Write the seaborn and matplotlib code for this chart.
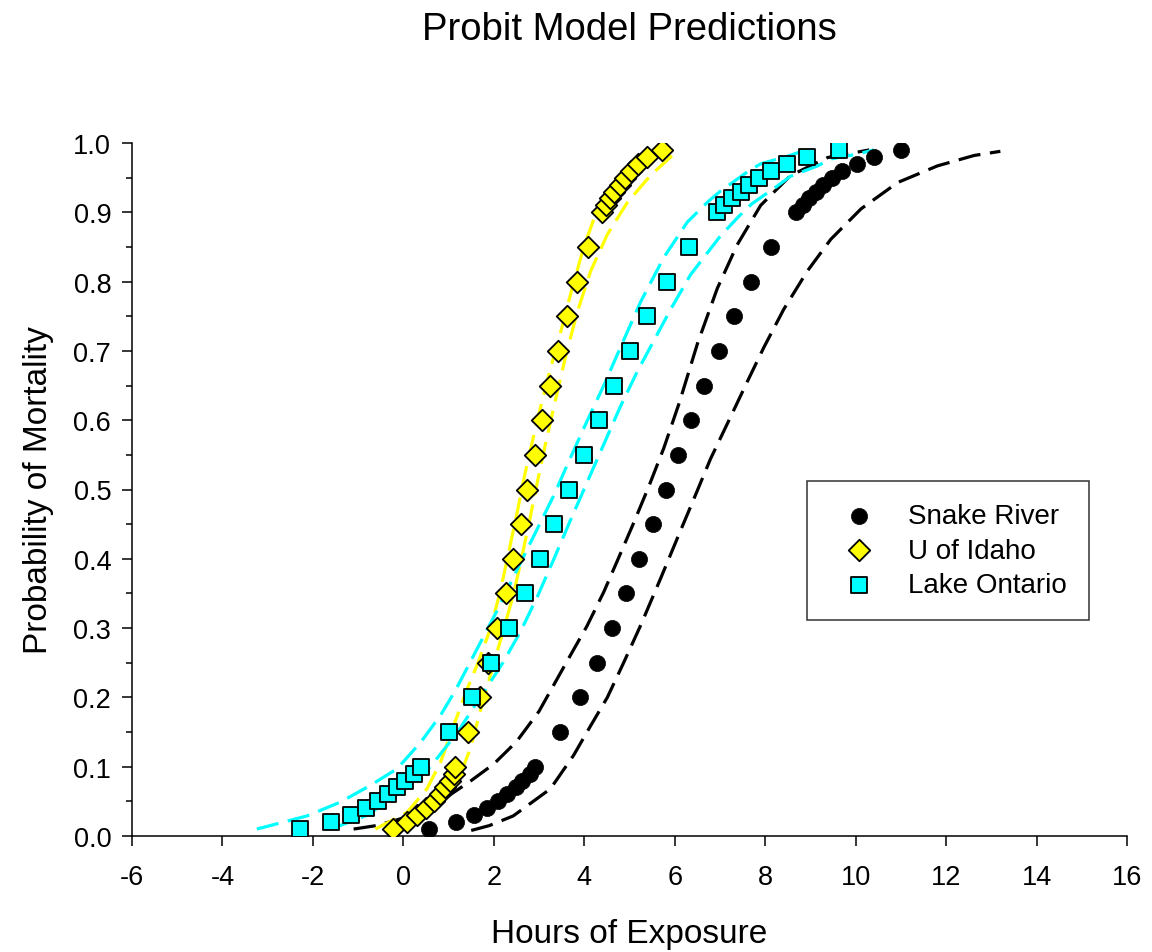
import numpy as np
import pandas as pd
import matplotlib
matplotlib.use("Agg")
import matplotlib.pyplot as plt
import seaborn as sns

# observed mortality levels (same for all three strains)
prob = [0.01, 0.02, 0.03, 0.04, 0.05, 0.06, 0.07, 0.08, 0.09, 0.10,
        0.15, 0.20, 0.25, 0.30, 0.35, 0.40, 0.45, 0.50, 0.55, 0.60,
        0.65, 0.70, 0.75, 0.80, 0.85,
        0.90, 0.91, 0.92, 0.93, 0.94, 0.95, 0.96, 0.97, 0.98, 0.99]

snake_x = [0.56, 1.17, 1.56, 1.85, 2.10, 2.30, 2.48, 2.63, 2.79, 2.92,
           3.46, 3.90, 4.28, 4.61, 4.93, 5.22, 5.52, 5.80, 6.07, 6.36,
           6.65, 6.97, 7.31, 7.69, 8.12,
           8.68, 8.83, 8.96, 9.12, 9.27, 9.47, 9.69, 10.02, 10.40, 11.00]

idaho_x = [-0.24, 0.08, 0.30, 0.49, 0.67, 0.82, 0.93, 1.04, 1.11, 1.15,
           1.44, 1.70, 1.88, 2.07, 2.26, 2.43, 2.59, 2.74, 2.92, 3.07,
           3.24, 3.42, 3.61, 3.84, 4.08,
           4.40, 4.47, 4.57, 4.65, 4.79, 4.91, 5.04, 5.18, 5.39, 5.72]

ontario_x = [-2.29, -1.60, -1.15, -0.82, -0.55, -0.33, -0.14, 0.04, 0.23, 0.40,
             1.02, 1.52, 1.93, 2.33, 2.68, 3.02, 3.34, 3.66, 3.99, 4.32,
             4.65, 5.01, 5.39, 5.82, 6.31,
             6.94, 7.09, 7.27, 7.46, 7.64, 7.86, 8.13, 8.49, 8.93, 9.63]

# predicted confidence bands
snake_up_x = [-1.1, -0.6, 0.0, 0.5, 1.0, 1.5, 2.0, 2.5, 3.0, 3.6, 4.06, 4.43,
              4.75, 5.1, 5.43, 5.76, 6.1, 6.5, 6.94, 7.38, 7.9, 8.56, 9.38, 10.3]
snake_up_p = [0.01, 0.015, 0.026, 0.04, 0.058, 0.08, 0.104, 0.136, 0.18, 0.25, 0.303, 0.352,
              0.40, 0.453, 0.505, 0.56, 0.625, 0.71, 0.79, 0.853, 0.91, 0.953, 0.979, 0.99]
snake_lo_x = [1.5, 1.9, 2.43, 3.25, 3.76, 4.14, 4.51, 4.87, 5.24, 5.69, 6.06, 6.42,
              6.79, 7.2, 7.6, 7.97, 8.41, 8.93, 9.45, 10.12, 10.93, 11.81, 12.62, 13.2]
snake_lo_p = [0.008, 0.015, 0.029, 0.068, 0.116, 0.159, 0.2, 0.25, 0.303, 0.372, 0.43, 0.486,
              0.544, 0.60, 0.655, 0.705, 0.76, 0.815, 0.861, 0.905, 0.943, 0.967, 0.982, 0.988]

idaho_up_x = [-0.62, 0.08, 0.52, 0.82, 1.11, 1.41, 1.65, 1.93, 2.15, 2.33, 2.51, 2.68,
              2.96, 3.25, 3.47, 3.73, 3.99, 4.21, 4.65, 5.24, 5.6]
idaho_up_p = [0.01, 0.034, 0.068, 0.106, 0.159, 0.212, 0.25, 0.30, 0.355, 0.41, 0.465, 0.52,
              0.60, 0.674, 0.725, 0.79, 0.85, 0.89, 0.943, 0.98, 0.99]
idaho_lo_x = [-0.3, 0.30, 0.82, 1.19, 1.48, 1.70, 1.92, 2.22, 2.44, 2.61, 2.79, 2.96,
              3.14, 3.33, 3.58, 3.84, 4.14, 4.51, 4.95, 5.46, 5.98, 6.1]
idaho_lo_p = [0.01, 0.02, 0.044, 0.077, 0.126, 0.18, 0.231, 0.299, 0.35, 0.40, 0.455, 0.51,
              0.565, 0.62, 0.69, 0.755, 0.815, 0.868, 0.914, 0.953, 0.984, 0.99]

ontario_up_x = [-3.24, -2.13, -1.39, -0.73, -0.14, 0.38, 0.82, 1.15, 1.55, 2.07, 2.52, 2.96,
                3.33, 3.62, 4.0, 4.43, 4.80, 5.24, 5.76, 6.28, 6.73, 7.0, 7.6, 7.9, 8.5, 8.9]
ontario_up_p = [0.01, 0.029, 0.049, 0.073, 0.097, 0.135, 0.174, 0.21, 0.26, 0.325, 0.385, 0.443,
                0.492, 0.535, 0.59, 0.65, 0.705, 0.77, 0.835, 0.886, 0.915, 0.93, 0.958, 0.97, 0.981, 0.99]
ontario_lo_x = [-1.6, -0.8, -0.07, 0.6, 1.2, 1.7, 2.2, 2.59, 2.96, 3.33, 3.69, 4.06,
                4.43, 4.8, 5.17, 5.54, 5.91, 6.35, 7.0, 7.4, 7.7, 8.27, 8.56, 9.16, 9.45, 10.04, 10.4]
ontario_lo_p = [0.01, 0.03, 0.063, 0.10, 0.15, 0.2, 0.25, 0.295, 0.345, 0.40, 0.455, 0.51,
                0.565, 0.62, 0.67, 0.715, 0.76, 0.81, 0.865, 0.893, 0.912, 0.938, 0.952, 0.967, 0.977, 0.984, 0.99]

sns.set_style("ticks")
plt.rcParams['font.family'] = ['Liberation Sans', 'DejaVu Sans']
for k in ("text.color", "axes.labelcolor", "xtick.color", "ytick.color", "axes.edgecolor"):
    plt.rcParams[k] = "black"

fig = plt.figure(figsize=(11.52, 9.53), dpi=100)
ax = fig.add_axes([132 / 1152, 1 - 837 / 953, 995 / 1152, 693 / 953])

dash = (0, (7, 3))
bands = [
    (snake_up_x, snake_up_p, "black"), (snake_lo_x, snake_lo_p, "black"),
    (idaho_up_x, idaho_up_p, "#ffff00"), (idaho_lo_x, idaho_lo_p, "#ffff00"),
    (ontario_up_x, ontario_up_p, "#00ffff"), (ontario_lo_x, ontario_lo_p, "#00ffff"),
]
for bx, bp, col in bands:
    df = pd.DataFrame({"x": bx, "p": bp})
    sns.lineplot(data=df, x="x", y="p", sort=False, estimator=None, ax=ax,
                 color=col, lw=2.3, linestyle=dash, zorder=2)

pts = pd.DataFrame({"x": snake_x, "p": prob})
sns.scatterplot(data=pts, x="x", y="p", ax=ax, marker="o", s=135, color="black",
                edgecolor="black", linewidth=0.5, label="Snake River", zorder=3)
pts = pd.DataFrame({"x": idaho_x, "p": prob})
sns.scatterplot(data=pts, x="x", y="p", ax=ax, marker="D", s=120, color="#ffff00",
                edgecolor="black", linewidth=1.3, label="U of Idaho", zorder=3)
pts = pd.DataFrame({"x": ontario_x, "p": prob})
sns.scatterplot(data=pts, x="x", y="p", ax=ax, marker="s", s=125, color="#00ffff",
                edgecolor="black", linewidth=1.3, label="Lake Ontario", zorder=4)

ax.set_xlim(-6, 16)
ax.set_ylim(0, 1)
ax.set_xticks(np.arange(-6, 17, 2))
ax.set_yticks(np.arange(0, 1.01, 0.1))
ax.set_yticks(np.arange(0.05, 1.0, 0.1), minor=True)
ax.set_xticklabels([str(v) for v in range(-6, 17, 2)])
ax.set_yticklabels(["%.1f" % v for v in np.arange(0, 1.01, 0.1)])
ax.tick_params(axis="both", which="major", direction="out", length=7, width=1.1,
               labelsize=19.5, colors="black")
ax.tick_params(axis="x", which="major", pad=13)
ax.tick_params(axis="y", which="major", pad=8)
ax.tick_params(axis="y", which="minor", direction="out", length=4, width=1.1)
sns.despine(ax=ax)
for sp in ("left", "bottom"):
    ax.spines[sp].set_linewidth(1.1)

ax.set_xlabel("Hours of Exposure", fontsize=24, labelpad=20)
ax.set_ylabel("Probability of Mortality", fontsize=24, labelpad=14)
fig.suptitle("Probit Model Predictions", fontsize=27.5, x=(132 + 1127) / 2 / 1152,
             y=1 - 12 / 953, va="top")

leg = ax.legend(loc="upper left", bbox_to_anchor=(0.678, 0.512), fontsize=20,
                frameon=True, fancybox=False, edgecolor="black", borderpad=0.8,
                handletextpad=0.65, labelspacing=0.3, borderaxespad=0, handlelength=2.2)
leg.get_frame().set_linewidth(1.1)

fig.savefig("out.png", dpi=100)
